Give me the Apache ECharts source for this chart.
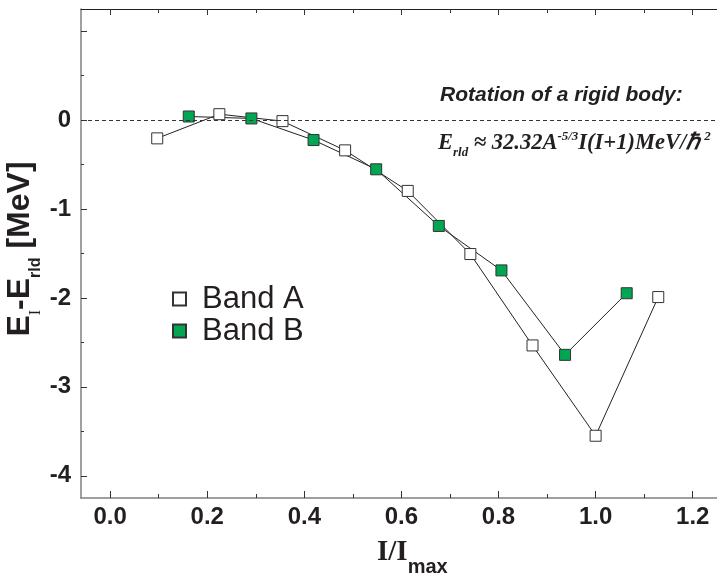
<!DOCTYPE html>
<html>
<head>
<meta charset="utf-8">
<script src="https://cdn.jsdelivr.net/npm/echarts@6/dist/echarts.min.js"></script>
<style>
  html, body { margin: 0; padding: 0; background: #fff; }
  #chart { width: 717px; height: 578px; }
</style>
</head>
<body>
<div id="chart"></div>
<script>
// tick positions
const xMajor = [0, 0.2, 0.4, 0.6, 0.8, 1.0, 1.2];
const xMinor = [0.1, 0.3, 0.5, 0.7, 0.9, 1.1];
const yMajor = [-4, -3, -2, -1, 0, 1];
const yLabels = [-4, -3, -2, -1, 0];
const yMinor = [-3.5, -2.5, -1.5, -0.5, 0.5];

// Band A (open squares)
const bandA_x = [0.097, 0.225, 0.355, 0.484, 0.613, 0.742, 0.870, 1.0, 1.129];
const bandA_y = [-0.205, 0.067, -0.011, -0.34, -0.796, -1.506, -2.534, -3.55, -1.99];
// Band B (green squares)
const bandB_x = [0.162, 0.291, 0.419, 0.548, 0.677, 0.806, 0.937, 1.064];
const bandB_y = [0.041, 0.019, -0.224, -0.553, -1.19, -1.69, -2.64, -1.947];

const textColor = '#231f20';
const green = '#00a651';

const chart = echarts.init(document.getElementById('chart'));

function xAx(pos, ticks, len, showLine, labels) {
  return {
    type: 'value', position: pos, min: -0.06, max: 1.25,
    axisLine: { show: showLine, onZero: false, lineStyle: { color: pos === 'top' ? '#222' : '#808080', width: pos === 'top' ? 1 : 1.5 } },
    axisTick: { show: true, inside: true, length: len, customValues: ticks, lineStyle: { color: '#333' } },
    axisLabel: labels ? {
      show: true, customValues: labels, margin: 7,
      formatter: v => v.toFixed(1),
      color: textColor, fontSize: 24, fontWeight: 'bold', fontFamily: 'Liberation Sans'
    } : { show: false },
    splitLine: { show: false }
  };
}

function yAx(ticks, len, showLine, labels) {
  return {
    type: 'value', position: 'left', min: -4.25, max: 1.25,
    axisLine: { show: showLine, onZero: false, lineStyle: { color: '#808080', width: 1.5 } },
    axisTick: { show: true, inside: true, length: len, customValues: ticks, lineStyle: { color: '#333' } },
    axisLabel: labels ? {
      show: true, customValues: labels, margin: 10,
      formatter: v => String(v),
      color: textColor, fontSize: 24, fontWeight: 'bold', fontFamily: 'Liberation Sans'
    } : { show: false },
    splitLine: { show: false }
  };
}

const option = {
  animation: false,
  backgroundColor: '#fff',
  textStyle: { fontFamily: 'Liberation Sans' },
  grid: { left: 81, right: 0, top: 9, bottom: 80 },
  xAxis: [
    xAx('bottom', xMajor, 7, true, xMajor),
    xAx('bottom', xMinor, 4, false, null),
    xAx('top', xMajor, 6, true, null),
    xAx('top', xMinor, 4, false, null)
  ],
  yAxis: [
    yAx(yMajor, 6, true, yLabels),
    yAx(yMinor, 3, false, null)
  ],
  legend: {
    orient: 'vertical', left: 167, top: 278,
    itemWidth: 13, itemHeight: 13, itemGap: 0,
    icon: 'rect',
    textStyle: { fontSize: 31, lineHeight: 32, color: textColor, fontFamily: 'Liberation Sans', padding: [0, 0, 0, 11] },
    data: ['Band A', 'Band B']
  },
  series: [
    {
      name: 'Band A', type: 'line',
      data: bandA_x.map((x, i) => [x, bandA_y[i]]),
      symbol: 'rect', symbolSize: 11,
      itemStyle: { color: '#fff', borderColor: '#333', borderWidth: 1 },
      lineStyle: { color: '#222', width: 1 },
      markLine: {
        silent: true, symbol: ['none', 'none'],
        label: { show: false },
        lineStyle: { color: '#333', width: 1, type: [4, 3] },
        data: [{ yAxis: 0 }]
      }
    },
    {
      name: 'Band B', type: 'line',
      data: bandB_x.map((x, i) => [x, bandB_y[i]]),
      symbol: 'rect', symbolSize: 11,
      itemStyle: { color: green, borderColor: '#333', borderWidth: 1 },
      lineStyle: { color: '#222', width: 1 }
    }
  ],
  graphic: [
    {
      type: 'text', x: 440, y: 95,
      style: {
        text: 'Rotation of a rigid body:',
        fill: textColor, fontSize: 21, fontWeight: 'bold', fontStyle: 'italic',
        fontFamily: 'Liberation Sans', align: 'left', verticalAlign: 'middle'
      }
    },
    {
      type: 'text', x: 438, y: 143.5,
      style: {
        text: '{m|E}{sb|rld}{m| ≈ 32.32A}{sp|-5/3}{m|I(I+1)MeV/ℏ}{sp2|2}',
        align: 'left', verticalAlign: 'middle', fill: textColor,
        rich: {
          m: { fontSize: 22.5, fontWeight: 'bold', fontStyle: 'italic', fontFamily: 'Liberation Serif', lineHeight: 33, fill: textColor },
          sb: { fontSize: 13, fontWeight: 'bold', fontStyle: 'italic', fontFamily: 'Liberation Serif', height: 14, verticalAlign: 'bottom', fill: textColor },
          sp: { fontSize: 13, fontWeight: 'bold', fontStyle: 'italic', fontFamily: 'Liberation Serif', height: 20, verticalAlign: 'top', fill: textColor },
          sp2: { fontSize: 13, fontWeight: 'bold', fontStyle: 'italic', fontFamily: 'Liberation Serif', height: 20, verticalAlign: 'top', padding: [0, 0, 0, 4], fill: textColor }
        }
      }
    },
    {
      type: 'text', x: 20, y: 249, rotation: Math.PI / 2,
      style: {
        text: '{m|E}{si|I}{m|-E}{sb|rld}{m| [MeV]}',
        align: 'center', verticalAlign: 'middle', fill: textColor,
        rich: {
          m: { fontSize: 32, fontWeight: 'bold', fontFamily: 'Liberation Sans', lineHeight: 48, fill: textColor },
          si: { fontSize: 16, fontFamily: 'Liberation Serif', height: 16, verticalAlign: 'bottom', fill: textColor },
          sb: { fontSize: 16, fontWeight: 'bold', fontFamily: 'Liberation Sans', height: 16, verticalAlign: 'bottom', fill: textColor }
        }
      }
    },
    {
      type: 'text', x: 377, y: 553,
      style: {
        text: '{m|I/I}{sb|max}',
        align: 'left', verticalAlign: 'middle', fill: textColor,
        rich: {
          m: { fontSize: 29, fontWeight: 'bold', fontFamily: 'Liberation Serif', lineHeight: 48, fill: textColor },
          sb: { fontSize: 20, fontWeight: 'bold', fontFamily: 'Liberation Sans', height: 20, verticalAlign: 'bottom', fill: textColor }
        }
      }
    }
  ]
};

chart.setOption(option);
</script>
</body>
</html>
